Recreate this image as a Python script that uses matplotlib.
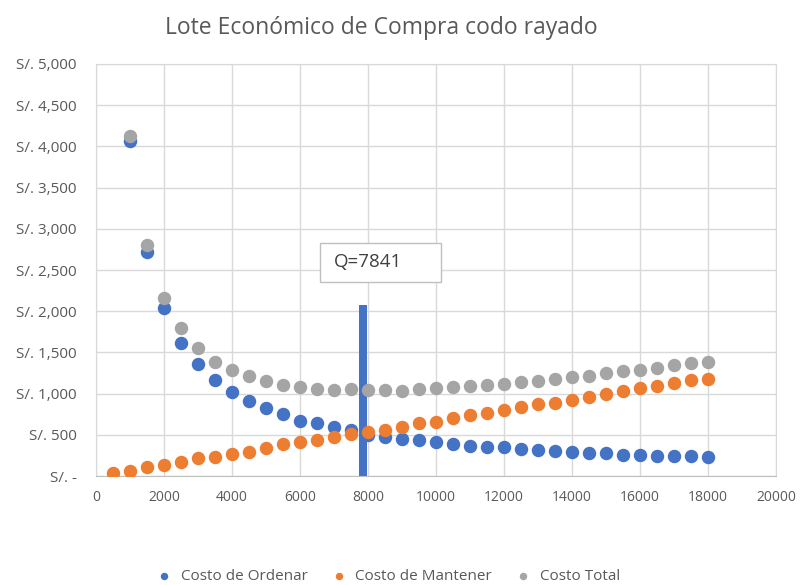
import matplotlib
matplotlib.use("Agg")
import matplotlib.pyplot as plt
from matplotlib.patches import Rectangle
from matplotlib.ticker import FuncFormatter

plt.rcParams['font.family'] = ['Open Sans', 'DejaVu Sans']

# lot sizes (Q)
q_all = [500, 1000, 1500, 2000, 2500, 3000, 3500, 4000, 4500, 5000, 5500, 6000,
         6500, 7000, 7500, 8000, 8500, 9000, 9500, 10000, 10500, 11000, 11500,
         12000, 12500, 13000, 13500, 14000, 14500, 15000, 15500, 16000, 16500,
         17000, 17500, 18000]
q = q_all[1:]

costo_ordenar = [4060, 2715, 2045, 1620, 1360, 1165, 1025, 910, 825, 752, 667,
                 639, 599, 558, 500, 477, 449, 437, 417, 388, 364, 348, 348, 332,
                 316, 298, 295, 277, 275, 257, 255, 243, 243, 240, 227]
costo_mantener = [36, 64, 113, 133, 174, 214, 226, 263, 295, 335, 388, 417,
                  437, 477, 510, 538, 558, 591, 639, 659, 700, 740, 768, 801,
                  834, 870, 890, 922, 963, 995, 1032, 1064, 1096, 1133, 1165, 1177]
costo_total = [4130, 2803, 2160, 1796, 1557, 1387, 1286, 1210, 1153, 1104, 1084,
               1056, 1044, 1052, 1044, 1044, 1035, 1056, 1064, 1076, 1096, 1104,
               1117, 1137, 1157, 1173, 1205, 1218, 1246, 1278, 1286, 1307, 1347,
               1367, 1387, 1408]
costo_total = costo_total[:len(q)]

q_optimo = 7841
barra_altura = 2080

BLUE = '#4472C4'
ORANGE = '#ED7D31'
GRAY = '#A5A5A5'
TXT = '#595959'

fig = plt.figure(figsize=(8.01, 5.85), dpi=100)
ax = fig.add_axes([0.1199, 0.1863, 0.849, 0.7043])

ax.bar([q_optimo], [barra_altura], width=240, color=BLUE, zorder=2)
ax.scatter(q, costo_ordenar, s=75, color=BLUE, zorder=3, label='Costo de Ordenar')
ax.scatter(q_all, costo_mantener, s=75, color=ORANGE, zorder=4, label='Costo de Mantener')
ax.scatter(q, costo_total, s=75, color=GRAY, zorder=5, label='Costo Total')

ax.set_xlim(0, 20000)
ax.set_ylim(0, 5000)
ax.set_xticks(range(0, 20001, 2000))
ax.set_yticks(range(0, 5001, 500))
ax.yaxis.set_major_formatter(FuncFormatter(
    lambda v, p: 'S/. -' if v == 0 else 'S/. {:,.0f}'.format(v)))
ax.grid(True, color='#d9d9d9', linewidth=1, zorder=0)
ax.set_axisbelow(True)
for s in ax.spines.values():
    s.set_color('#d9d9d9')
ax.spines['bottom'].set_color('#bfbfbf')
ax.tick_params(axis='x', length=0, labelsize=10, colors=TXT, pad=10)
ax.tick_params(axis='y', length=0, labelsize=11, colors=TXT, pad=14)

# etiqueta Q
ax.add_patch(Rectangle((6588, 2354), 3559, 474, facecolor='white',
                       edgecolor='#bfbfbf', linewidth=1, zorder=6))
ax.text(7000, 2597, 'Q=7841', fontsize=13.5, color='#404040', va='center',
        ha='left', zorder=7)

fig.text(0.476, 0.952, 'Lote Económico de Compra codo rayado', fontsize=16.5,
         color=TXT, ha='center', va='center')

fig.legend(loc='lower center', bbox_to_anchor=(0.48, -0.022), ncol=3,
           frameon=False, fontsize=11, markerscale=0.5, handletextpad=0.1,
           columnspacing=1.0, labelcolor=TXT)

fig.savefig('out.png', dpi=100)
